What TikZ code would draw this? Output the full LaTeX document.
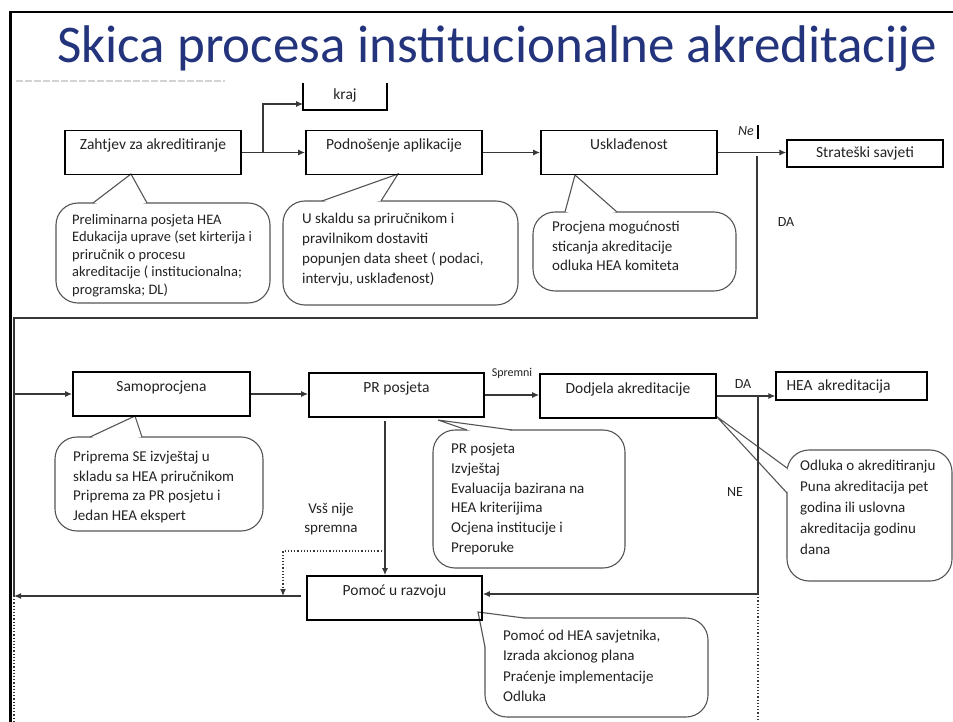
\documentclass[tikz,border=0pt]{standalone}
\usepackage{fontspec}
\setmainfont{Carlito}
\usetikzlibrary{arrows.meta,calc}
\definecolor{titleblue}{RGB}{35,52,125}
\definecolor{txt}{RGB}{35,35,35}
\definecolor{cgray}{RGB}{85,85,85}
\definecolor{lgray}{RGB}{55,55,55}
\newcommand\mycallout[6]{%
  \draw[callout] #1 rectangle #2;
  \fill[white] #3 -- #4 -- #5 -- #6 -- cycle;
  \draw[cline] #3 -- #4 -- #5;}
\begin{document}
\begin{tikzpicture}[x=1pt,y=-1pt,
  box/.style={draw=black,line width=1.8pt,inner sep=0pt,text height=19pt,text depth=25pt,font=\fontsize{15.5}{18}\selectfont,text=txt},
  conn/.style={draw=lgray,line width=1.2pt},
  arr/.style={conn,-{Latex[length=7pt,width=6pt]}},
  callout/.style={draw=cgray,line width=1.1pt,rounded corners=22pt},
  cline/.style={draw=cgray,line width=1.1pt},
  ctext/.style={anchor=north west,inner sep=0pt,align=left,text=txt},
  lbl/.style={inner sep=0pt,text=txt,font=\fontsize{14}{16}\selectfont}]
\useasboundingbox (0,0) rectangle (953,722);
\fill[white] (0,0) rectangle (953,722);
% slide frame
\draw[line width=2.5pt] (10.5,722) -- (10.5,12) -- (953,12);
% title
\node[anchor=base,inner sep=0pt,text=titleblue,font=\fontsize{53}{60}\selectfont] (title) at (497,63) {Skica procesa institucionalne akreditacije};
% faint cut-off line under the title
\draw[gray!35,line width=1.3pt,dash pattern=on 7pt off 2pt] (16,81) -- (225,81);

% callouts
\mycallout{(56,203)}{(270,303)}{(93,203)}{(131,174)}{(147,203)}{(120,208)}
\mycallout{(283,201)}{(518,305)}{(322,201)}{(398,174)}{(381,201)}{(351,206)}
\mycallout{(533,212)}{(736,291)}{(565,212)}{(575,175)}{(617,212)}{(591,217)}
\mycallout{(55,437)}{(263,531)}{(90,437)}{(135,416)}{(142,437)}{(116,442)}
\mycallout{(433,430)}{(625,568)}{(467,430)}{(438,420)}{(512,430)}{(490,435)}
\mycallout{(787,450)}{(952,581)}{(787,468)}{(716,416)}{(787,493)}{(792,480)}
\mycallout{(485,618)}{(708,717)}{(524,618)}{(478,612)}{(485,647)}{(507,640)}

% boxes
\node[box,minimum width=176pt] (zah) at (153,152.5) {Zahtjev za akreditiranje};
\node[box,minimum width=176pt] (pod) at (394,152.5) {Podnošenje aplikacije};
\node[box,minimum width=176pt] (usk) at (629,152.5) {Usklađenost};
\node[box,line width=1.3pt,minimum width=156pt,text height=18pt,text depth=9pt] (str) at (865,153.5) {Strateški savjeti};
\node[box,draw=none,minimum width=82pt,text height=16pt,text depth=9pt] (kraj) at (345,96.5) {kraj};
\draw[line width=1.3pt] (kraj.north west) -- (kraj.south west) -- (kraj.south east) -- (kraj.north east);
\node[box,minimum width=177pt] (samo) at (161.5,394) {Samoprocjena};
\node[box,minimum width=175pt] (pr) at (396.5,395) {PR posjeta};
\node[box,minimum width=176pt] (dod) at (628,396) {Dodjela akreditacije};
\node[box,line width=1.3pt,minimum width=151pt,text width=130pt,align=left,text height=18pt,text depth=10pt] (hea) at (851.5,386) {HEA akreditacija};
\node[box,minimum width=175pt] (pom) at (394.5,598) {Pomoć u razvoju};

% connectors
\draw[arr] (zah.east) -- (pod.west);
\coordinate (kb) at (263,152.5);
\draw[arr] (kb) |- ([yshift=-7.5pt]kraj.west);
\draw[arr] (pod.east) -- (usk.west);
\draw[arr] (usk.east) -- (usk.east -| str.west);
\draw[line width=1.6pt] (758,125) -- (758,139);
\coordinate (u1) at (757,156);
\coordinate (u2) at (757,318);
\coordinate (l1) at (14,318);
\coordinate (l2) at (14,596);
\coordinate (l3) at (14,722);
\draw[arr] (u1) -- (u2) -- (l1) |- (samo.west);
\draw[conn] (l1) -- (l2);
\draw[conn,dotted] (l2) -- (l3);
\draw[arr] (samo.east) -- (samo.east -| pr.west);
\draw[arr] (pr.east) -- (pr.east -| dod.west);
\draw[arr] (dod.east) -- (dod.east -| hea.west);
\coordinate (d1) at (758,396);
\coordinate (d2) at (758,594);
\coordinate (d3) at (758,722);
\draw[arr] (d1) -- (d2) -- (d2 -| pom.east);
\draw[conn,dotted] (d2) -- (d3);
\draw[arr] ([xshift=-11.5pt,yshift=-3pt]pr.south) -- ([xshift=-9.5pt]pom.north);
\coordinate (v1) at (385,551);
\coordinate (v2) at (283,551);
\coordinate (v3) at (283,596);
\draw[arr,dotted] (v1) -- (v2) -- (v3);
\coordinate (h1) at (301,596);
\draw[arr] (h1) -- (l2);

% labels
\node[lbl,font=\itshape\fontsize{14}{16}\selectfont] (ne1) at (746,131) {Ne};
\node[lbl] (da1) at (786,222) {DA};
\node[lbl] (da2) at (743,384) {DA};
\node[lbl] (ne2) at (735,492) {NE};
\node[lbl,font=\fontsize{12}{14}\selectfont] (spr) at (512,373) {Spremni};
\node[lbl,font=\fontsize{15}{19}\selectfont,align=center] (vss) at (331,519) {Vsš nije\\spremna};

% callout texts
\node[ctext,font=\fontsize{14.5}{17.5}\selectfont] (c1) at (72,214) {Preliminarna posjeta HEA\\Edukacija uprave (set kirterija i\\priručnik o procesu\\akreditacije ( institucionalna;\\programska; DL)};
\node[ctext,font=\fontsize{15}{20}\selectfont] (c2) at (302,213) {U skaldu sa priručnikom i\\pravilnikom dostaviti\\popunjen data sheet ( podaci,\\intervju, usklađenost)};
\node[ctext,font=\fontsize{15}{19.5}\selectfont] (c3) at (552,221) {Procjena mogućnosti\\sticanja akreditacije\\odluka HEA komiteta};
\node[ctext,font=\fontsize{15}{19.5}\selectfont] (c4) at (73,451) {Priprema SE izvještaj u\\skladu sa HEA priručnikom\\Priprema za PR posjetu i\\Jedan HEA ekspert};
\node[ctext,font=\fontsize{15}{19.8}\selectfont] (c5) at (451,443) {PR posjeta\\Izvještaj\\Evaluacija bazirana na\\HEA kriterijima\\Ocjena institucije i\\Preporuke};
\node[ctext,font=\fontsize{15}{21}\selectfont] (c6) at (800,459.5) {Odluka o akreditiranju\\Puna akreditacija pet\\godina ili uslovna\\akreditacija godinu\\dana};
\node[ctext,font=\fontsize{15}{20.5}\selectfont] (c7) at (503,629.5) {Pomoć od HEA savjetnika,\\Izrada akcionog plana\\Praćenje implementacije\\Odluka};
\end{tikzpicture}
\end{document}
